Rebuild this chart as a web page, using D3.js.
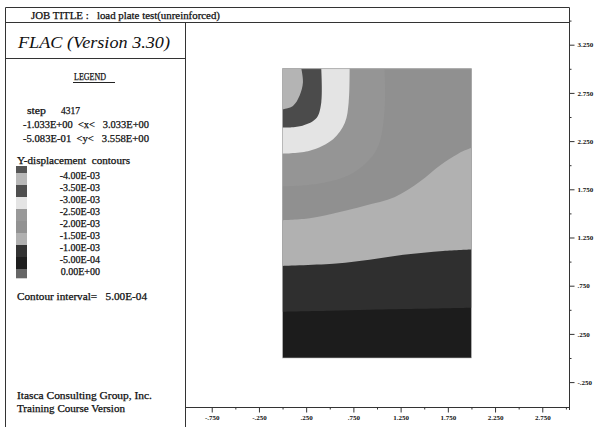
<!DOCTYPE html>
<html><head><meta charset="utf-8">
<script src="https://cdn.jsdelivr.net/npm/d3@7"></script>
<style>
html,body{margin:0;padding:0;background:#fff;}
svg{display:block;}
text{font-family:"Liberation Serif","DejaVu Serif",serif;fill:#111;}
.tx{stroke:#111;stroke-width:0.25px;}
</style></head>
<body><svg id="c" width="598" height="427"></svg>
<script>
// ---- data ----
const xDomain = [-1.033, 3.033];
const yDomain = [-0.5083, 3.558];
const gridX = [0, 2];
const gridY = [0, 3];
const xMajorTicks = [-0.75, -0.25, 0.25, 0.75, 1.25, 1.75, 2.25, 2.75];
const xMinorTicks = [-0.5, 0, 0.5, 1.0, 1.5, 2.0, 2.5, 3.0];
const yMajorTicks = [3.25, 2.75, 2.25, 1.75, 1.25, 0.75, 0.25, -0.25];
const yMinorTicks = [3.5, 3.0, 2.5, 2.0, 1.5, 1.0, 0.5, 0.0];
const contourLevels = ["-4.00E-03","-3.50E-03","-3.00E-03","-2.50E-03","-2.00E-03","-1.50E-03","-1.00E-03","-5.00E-04","0.00E+00"];
const legendColors = ["#555555","#b8b8b8","#4f4f4f","#e4e4e4","#999999","#929292","#b0b0b0","#333333","#1e1e1e","#666666"];
// contour boundaries (x, y) in model coordinates
const bDarkDarkest = [[0,0.48],[0.5,0.49],[0.92,0.50],[1.5,0.51],[2.0,0.52]];
const bLightDark = [[0,0.955],[0.57,0.98],[0.92,1.02],[1.28,1.07],[1.70,1.11],[2.0,1.125]];
const bMidLight = [[2.0,2.18],[1.86,2.12],[1.67,2.0],[1.455,1.83],[1.19,1.67],[0.87,1.58],[0.605,1.515],[0.287,1.45],[0,1.43]];
const bMid1Mid2 = [[1.08,3.0],[1.08,2.57],[0.995,2.16],[0.746,1.92],[0.39,1.81],[0,1.78]];
const bPaleMid = [[0.71,3.0],[0.70,2.65],[0.66,2.44],[0.535,2.27],[0.287,2.15],[0,2.12]];
const bRingPale = [[0.41,3.0],[0.41,2.65],[0.36,2.49],[0.21,2.41],[0,2.39]];
const bInnerRing = [[0.199,3.0],[0.216,2.86],[0.18,2.72],[0.11,2.615],[0,2.58]];
const bandColors = {darkest:"#1c1c1c", dark:"#2f2f2f", light:"#b1b1b1", mid2:"#909090", mid1:"#959595", pale:"#e4e4e4", ring:"#4b4b4b", inner:"#b4b4b4"};

// ---- drawing ----
const svg = d3.select("#c");
const x = d3.scaleLinear().domain(xDomain).range([185, 569]);
const y = d3.scaleLinear().domain(yDomain).range([407, 15]);

// frame
const frame = svg.append("g").attr("stroke","#333").attr("stroke-width",1).attr("fill","none");
frame.append("line").attr("x1",5.5).attr("y1",7.5).attr("x2",569.5).attr("y2",7.5);
frame.append("line").attr("x1",5.5).attr("y1",7.5).attr("x2",5.5).attr("y2",427);
frame.append("line").attr("x1",5.5).attr("y1",22.5).attr("x2",569.5).attr("y2",22.5);
frame.append("line").attr("x1",5.5).attr("y1",58.5).attr("x2",185.5).attr("y2",58.5);
frame.append("line").attr("x1",185.5).attr("y1",22.5).attr("x2",185.5).attr("y2",427);
frame.append("line").attr("x1",569.5).attr("y1",7.5).attr("x2",569.5).attr("y2",410);
frame.append("line").attr("x1",185.5).attr("y1",407.5).attr("x2",569.5).attr("y2",407.5);

// contour bands
const g = svg.append("g");
const line = d3.line().x(d => x(d[0])).y(d => y(d[1])).curve(d3.curveCatmullRom.alpha(0.5));
function regionPath(pts, corners){
  let p = line(pts);
  corners.forEach(c => { p += "L" + x(c[0]) + "," + y(c[1]); });
  return p + "Z";
}
g.append("rect").attr("x", x(gridX[0])).attr("y", y(gridY[1]))
  .attr("width", x(gridX[1]) - x(gridX[0])).attr("height", y(gridY[0]) - y(gridY[1]))
  .attr("fill", bandColors.darkest);
const TL = [gridX[0], gridY[1]], TR = [gridX[1], gridY[1]];
g.append("path").attr("d", regionPath(bDarkDarkest, [TR, TL])).attr("fill", bandColors.dark);
g.append("path").attr("d", regionPath(bLightDark, [TR, TL])).attr("fill", bandColors.light);
g.append("path").attr("d", regionPath(bMidLight, [TL, TR])).attr("fill", bandColors.mid2);
g.append("path").attr("d", regionPath(bMid1Mid2, [TL])).attr("fill", bandColors.mid1);
g.append("path").attr("d", regionPath(bPaleMid, [TL])).attr("fill", bandColors.pale);
g.append("path").attr("d", regionPath(bRingPale, [TL])).attr("fill", bandColors.ring);
g.append("path").attr("d", regionPath(bInnerRing, [TL])).attr("fill", bandColors.inner);
g.append("rect").attr("x", x(gridX[0])).attr("y", y(gridY[1]))
  .attr("width", x(gridX[1]) - x(gridX[0])).attr("height", y(gridY[0]) - y(gridY[1]))
  .attr("fill","none").attr("stroke","#bbb").attr("stroke-width",0.6);

// axes
const fmt = v => (v < 0 ? "-" : "") + Math.abs(v).toFixed(3).replace(/^0\./, ".");
const xa = svg.append("g").attr("transform","translate(0,407.5)")
  .call(d3.axisBottom(x).tickValues(xMajorTicks).tickSize(5).tickSizeOuter(0).tickPadding(3).tickFormat(fmt));
const xm = svg.append("g").attr("transform","translate(0,407.5)")
  .call(d3.axisBottom(x).tickValues(xMinorTicks).tickSize(2).tickSizeOuter(0).tickFormat(""));
const ya = svg.append("g").attr("transform","translate(569.5,0)")
  .call(d3.axisRight(y).tickValues(yMajorTicks).tickSize(5).tickSizeOuter(0).tickPadding(3).tickFormat(fmt));
const ym = svg.append("g").attr("transform","translate(569.5,0)")
  .call(d3.axisRight(y).tickValues(yMinorTicks).tickSize(2).tickSizeOuter(0).tickFormat(""));
[xa, xm, ya, ym].forEach(a => {
  a.select(".domain").remove();
  a.selectAll("line").attr("stroke","#333");
  a.selectAll("text").attr("font-family","Liberation Serif").attr("font-size","7px").attr("font-weight","bold").attr("fill","#222");
});

// texts
function t(txt, xx, yy, size, opts){
  opts = opts || {};
  const e = svg.append("text").attr("class","tx").attr("x", xx).attr("y", yy).attr("font-size", size + "px").text(txt);
  if (opts.anchor) e.attr("text-anchor", opts.anchor);
  if (opts.italic) e.attr("font-style","italic");
  if (opts.family) e.attr("font-family", opts.family);
  if (opts.len) e.attr("textLength", opts.len).attr("lengthAdjust","spacingAndGlyphs");
  if (opts.ws) e.style("white-space","pre");
  return e;
}
t("JOB TITLE :   load plate test(unreinforced)", 31, 18.5, 10, {len:189, ws:true});
t("FLAC (Version 3.30)", 18, 47.5, 17, {italic:true, len:152, family:"DejaVu Serif"}).attr("class", null);
t("LEGEND", 74, 80, 10, {len:32});
svg.append("line").attr("x1",73).attr("x2",115).attr("y1",82.5).attr("y2",82.5).attr("stroke","#222");
t("step", 27, 114, 10, {len:19});
t("4317", 61, 114, 10, {len:19});
t("-1.033E+00  <x<   3.033E+00", 23, 128, 10, {len:126, ws:true});
t("-5.083E-01  <y<   3.558E+00", 23, 142, 10, {len:126, ws:true});
t("Y-displacement  contours", 17, 164, 10, {len:113, ws:true});

// legend swatches: boundaries sit at the level labels
const labelY0 = 175, labelStep = 12;
const swEdges = [166].concat(contourLevels.map((d,i) => labelY0 - 2 + i*labelStep)).concat([278]);
svg.append("g").selectAll("rect").data(legendColors).join("rect")
  .attr("x", 16).attr("width", 11)
  .attr("y", (d,i) => swEdges[i]).attr("height", (d,i) => swEdges[i+1] - swEdges[i] + 0.3)
  .attr("fill", d => d);
svg.append("g").selectAll("text").data(contourLevels).join("text")
  .attr("class","tx")
  .attr("x", 100).attr("text-anchor","end")
  .attr("y", (d,i) => labelY0 + 3.5 + i*labelStep)
  .attr("font-size","10px").text(d => d);

t("Contour interval=   5.00E-04", 17, 300, 10, {len:130, ws:true});
t("Itasca Consulting Group, Inc.", 17, 399, 10, {len:135});
t("Training Course Version", 17, 412, 10, {len:108});
</script></body></html>
